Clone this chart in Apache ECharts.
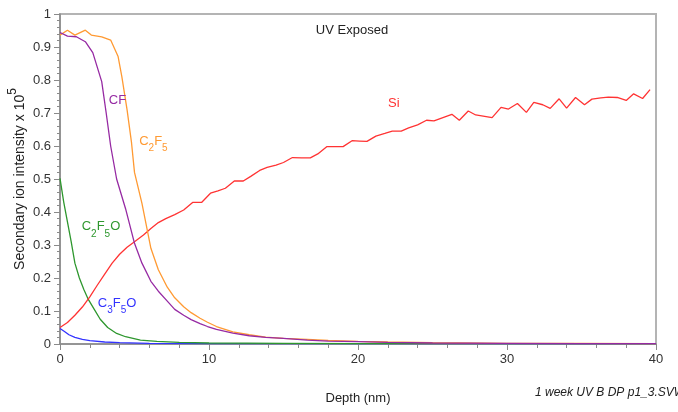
<!DOCTYPE html>
<html style="height: 100%">
<head>
<meta charset="UTF-8">
<title>UV Exposed depth profile</title>
<script src="https://cdn.jsdelivr.net/npm/echarts@6/dist/echarts.min.js"></script>
</head>
<body style="height: 100%; margin: 0; background: #fff">
<div id="container" style="width: 678px; height: 412px"></div>
<script type="text/javascript">
// depth (nm), intensity (x 1e5)
var siData = [[0,0.05],[0.5,0.065],[1,0.087],[1.5,0.112],[2,0.143],[2.5,0.178],[3,0.212],[3.5,0.245],[4,0.272],[4.5,0.293],[5,0.31],[5.6,0.33],[6.1,0.35],[6.6,0.368],[7.1,0.38],[7.7,0.392],[8.3,0.406],[8.9,0.429],[9.5,0.429],[10.1,0.457],[10.6,0.464],[11.1,0.472],[11.7,0.494],[12.3,0.494],[12.8,0.508],[13.4,0.526],[13.9,0.535],[14.5,0.542],[15.0,0.55],[15.6,0.565],[16.2,0.564],[16.8,0.564],[17.3,0.576],[17.9,0.598],[18.4,0.598],[19.0,0.598],[19.6,0.616],[20.1,0.615],[20.6,0.614],[21.2,0.63],[21.8,0.638],[22.3,0.645],[22.9,0.645],[23.4,0.655],[24.0,0.664],[24.6,0.678],[25.1,0.676],[25.7,0.686],[26.3,0.696],[26.8,0.678],[27.4,0.706],[27.9,0.694],[28.5,0.69],[29.0,0.686],[29.6,0.717],[30.1,0.712],[30.7,0.729],[31.3,0.702],[31.8,0.732],[32.4,0.725],[32.9,0.714],[33.5,0.743],[34.0,0.715],[34.6,0.747],[35.2,0.725],[35.7,0.742],[36.3,0.746],[36.8,0.748],[37.4,0.747],[38.0,0.738],[38.5,0.758],[39.1,0.744],[39.6,0.771]];
var cfData = [[0,0.944],[0.5,0.933],[1.1,0.931],[1.7,0.916],[2.2,0.883],[2.8,0.795],[3.1,0.7],[3.4,0.6],[3.8,0.5],[4.4,0.41],[5.0,0.305],[5.5,0.245],[6.1,0.19],[6.6,0.16],[7.2,0.13],[7.7,0.105],[8.3,0.087],[8.8,0.074],[9.4,0.062],[9.9,0.053],[10.5,0.044],[11.6,0.033],[12.7,0.025],[13.8,0.02],[15,0.017],[16.6,0.012],[18,0.009],[20,0.007],[22,0.005],[25,0.003],[30,0.002],[35,0.001],[40,0.001]];
var c2f5Data = [[0,0.936],[0.5,0.951],[1.0,0.936],[1.7,0.951],[2.1,0.936],[2.8,0.931],[3.4,0.921],[3.9,0.871],[4.15,0.81],[4.5,0.71],[4.8,0.61],[5.0,0.52],[5.5,0.426],[6.1,0.29],[6.6,0.225],[7.2,0.172],[7.7,0.14],[8.3,0.113],[8.8,0.095],[9.4,0.078],[9.9,0.066],[10.5,0.053],[11.6,0.037],[12.7,0.028],[13.8,0.021],[15,0.017],[16.6,0.014],[18,0.011],[20,0.008],[22,0.006],[25,0.004],[30,0.002],[35,0.002],[40,0.001]];
var c2f5oData = [[0,0.502],[0.25,0.43],[0.5,0.37],[0.75,0.31],[1.0,0.245],[1.3,0.2],[1.6,0.165],[1.9,0.135],[2.3,0.105],[2.7,0.075],[3.2,0.05],[3.8,0.032],[4.4,0.022],[5.4,0.012],[6.5,0.008],[8,0.005],[10,0.003],[15,0.002],[20,0.001],[40,0.001]];
var c3f5oData = [[0,0.047],[0.3,0.038],[0.6,0.028],[1.0,0.02],[1.5,0.014],[2,0.01],[3,0.006],[4,0.004],[6,0.002],[10,0.001],[40,0.001]];

var xTicks = [0, 10, 20, 30, 40];

var font = '"Liberation Sans", Arial, sans-serif';

// rich styles for chemical formula subscripts
function formulaRich(color) {
    return {
        b: {fontSize: 13, color: color, fontFamily: font, lineHeight: 24, verticalAlign: 'middle'},
        s: {fontSize: 10, color: color, fontFamily: font, lineHeight: 10, verticalAlign: 'bottom'}
    };
}

function lineSeries(name, data, color, labelText, labelAt) {
    return {
        name: name,
        type: 'line',
        data: data,
        showSymbol: false,
        symbol: 'none',
        silent: true,
        lineStyle: {color: color, width: 1.3},
        markPoint: {
            symbol: 'circle',
            symbolSize: 0,
            silent: true,
            label: {
                show: true,
                position: 'inside',
                formatter: labelText,
                rich: formulaRich(color)
            },
            data: [{coord: labelAt}]
        }
    };
}

var dom = document.getElementById('container');
var myChart = echarts.init(dom);

var option = {
    animation: false,
    backgroundColor: '#fff',
    title: {
        text: 'UV Exposed',
        left: 347,
        top: 19,
        textAlign: 'center',
        textStyle: {fontSize: 13, fontWeight: 'normal', color: '#222', fontFamily: font}
    },
    grid: {
        left: 60, right: 22, top: 14, bottom: 68,
        outerBoundsMode: 'none',
        containLabel: false,
        show: true,
        borderColor: '#b4b4b4',
        borderWidth: 2
    },
    xAxis: {
        type: 'value',
        min: 0, max: 40, interval: 10,
        name: 'Depth (nm)',
        nameLocation: 'middle',
        nameGap: 48,
        nameTextStyle: {fontSize: 13, color: '#222', fontFamily: font},
        axisLine: {lineStyle: {color: '#8a8a8a', width: 1.5}},
        axisTick: {show: true, length: 6, lineStyle: {color: '#8a8a8a'}},
        minorTick: {show: true, splitNumber: 5, length: 4, lineStyle: {color: '#8a8a8a'}},
        splitLine: {show: false},
        axisLabel: {
            fontSize: 13, color: '#333', fontFamily: font, margin: 9,
            formatter: function (v) { return xTicks.indexOf(v) >= 0 ? String(v) : ''; }
        }
    },
    yAxis: {
        type: 'value',
        min: 0, max: 1, interval: 0.1,
        name: '{b|Secondary ion intensity x 10}{p|5}',
        nameLocation: 'middle',
        nameGap: 27,
        nameMoveOverlap: false,
        nameRotate: 90,
        nameTextStyle: {
            rich: {
                b: {fontSize: 14, color: '#222', fontFamily: font, lineHeight: 26, verticalAlign: 'middle'},
                p: {fontSize: 12, color: '#222', fontFamily: font, lineHeight: 12, verticalAlign: 'top'}
            }
        },
        axisLine: {show: true, lineStyle: {color: '#8a8a8a', width: 1.5}},
        axisTick: {show: true, length: 6, lineStyle: {color: '#8a8a8a'}},
        minorTick: {show: true, splitNumber: 5, length: 3, lineStyle: {color: '#8a8a8a'}},
        splitLine: {show: false},
        axisLabel: {fontSize: 13, color: '#333', fontFamily: font, margin: 9}
    },
    graphic: [{
        type: 'text',
        left: 535,
        top: 387,
        style: {
            text: '1 week UV B DP p1_3.SVW',
            fontSize: 12,
            fontStyle: 'italic',
            fontFamily: font,
            fill: '#222'
        }
    }],
    series: [
        lineSeries('C3F5O', c3f5oData, '#3333ff', '{b|C}{s|3}{b|F}{s|5}{b|O}', [3.83, 0.124]),
        lineSeries('C2F5O', c2f5oData, '#2e972e', '{b|C}{s|2}{b|F}{s|5}{b|O}', [2.75, 0.355]),
        lineSeries('Si', siData, '#ff3333', '{b|Si}', [22.4, 0.73]),
        lineSeries('C2F5', c2f5Data, '#ff9a33', '{b|C}{s|2}{b|F}{s|5}', [6.27, 0.615]),
        lineSeries('CF', cfData, '#962aa3', '{b|CF}', [3.86, 0.739])
    ]
};

myChart.setOption(option);
</script>
</body>
</html>
